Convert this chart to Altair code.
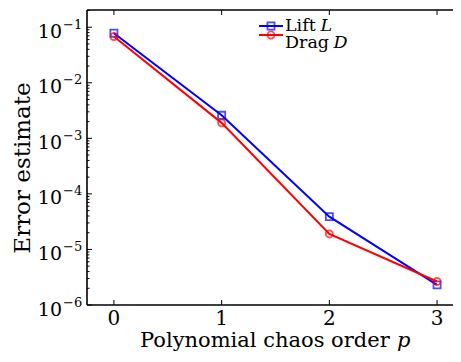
import altair as alt
import pandas as pd

# ---- data ----
order = [0, 1, 2, 3]
lift = [0.078, 0.0026, 3.9e-5, 2.3e-6]
drag = [0.068, 0.0019, 1.9e-5, 2.65e-6]
series_names = ["Lift", "Drag"]
series_symbols = ["L", "D"]
series_colors = ["#0000ff", "#ff0000"]
series_shapes = ["square", "circle"]
x_ticks = [0, 1, 2, 3]
y_exponents = [-6, -5, -4, -3, -2, -1]

FONT = "DejaVu Serif"
W, H = 366, 295
xs = alt.Scale(domain=[-0.25, 3.148], nice=False, zero=False)
ys = alt.Scale(type="log", domain=[1e-6, 10 ** -0.69], nice=False)

values = {"Lift": lift, "Drag": drag}
layers = []
one = pd.DataFrame({"k": [0]})

# ---- frame (left, top, bottom; right edge lies beyond the picture) ----
layers.append(alt.Chart(one).mark_rule(color="black", strokeWidth=1.6).encode(
    x=alt.value(0), x2=alt.value(W), y=alt.value(0)))
layers.append(alt.Chart(one).mark_rule(color="black", strokeWidth=1.6).encode(
    x=alt.value(0), x2=alt.value(W), y=alt.value(H)))
layers.append(alt.Chart(one).mark_rule(color="black", strokeWidth=1.6).encode(
    x=alt.value(0), y=alt.value(0), y2=alt.value(H)))

# ---- series (Lift drawn first, Drag on top) ----
for name, col, shp in zip(series_names, series_colors, series_shapes):
    d = pd.DataFrame({"p": order, "err": values[name]})
    b = alt.Chart(d)
    layers.append(b.mark_line(color=col, strokeWidth=2).encode(
        x=alt.X("p:Q", scale=xs, axis=None),
        y=alt.Y("err:Q", scale=ys, axis=None)))
    layers.append(b.mark_point(color=col, shape=shp, filled=False, size=50, strokeWidth=1.8).encode(
        x=alt.X("p:Q", scale=xs, axis=None),
        y=alt.Y("err:Q", scale=ys, axis=None)))

# ---- ticks (inward) ----
xt = pd.DataFrame({"p": x_ticks, "label": [str(v) for v in x_ticks]})
layers.append(alt.Chart(xt).mark_rule(color="black", strokeWidth=1).encode(
    x=alt.X("p:Q", scale=xs), y=alt.value(H), y2=alt.value(H - 5)))
layers.append(alt.Chart(xt).mark_rule(color="black", strokeWidth=1).encode(
    x=alt.X("p:Q", scale=xs), y=alt.value(0), y2=alt.value(5)))

major = pd.DataFrame({"v": [10.0 ** e for e in y_exponents],
                      "exp": ["\u2212" + str(abs(e)) for e in y_exponents]})
minor_vals = [m * 10.0 ** e for e in y_exponents for m in range(2, 10) if m * 10.0 ** e <= 10 ** -0.69]
minor = pd.DataFrame({"v": minor_vals})
layers.append(alt.Chart(major).mark_rule(color="black", strokeWidth=1).encode(
    y=alt.Y("v:Q", scale=ys), x=alt.value(0), x2=alt.value(5)))
layers.append(alt.Chart(minor).mark_rule(color="black", strokeWidth=1).encode(
    y=alt.Y("v:Q", scale=ys), x=alt.value(0), x2=alt.value(2.5)))

# ---- tick labels ----
layers.append(alt.Chart(major).mark_text(align="right", baseline="alphabetic", dy=10.5,
                                         fontSize=19, font=FONT, color="black").encode(
    y=alt.Y("v:Q", scale=ys), x=alt.value(-25), text=alt.value("10")))
layers.append(alt.Chart(major).mark_text(align="left", baseline="alphabetic", dy=1.5,
                                         fontSize=13, font=FONT, color="black").encode(
    y=alt.Y("v:Q", scale=ys), x=alt.value(-24), text="exp:N"))
layers.append(alt.Chart(xt).mark_text(align="center", baseline="alphabetic",
                                      fontSize=20, font=FONT, color="black").encode(
    x=alt.X("p:Q", scale=xs), y=alt.value(H + 20), text="label:N"))

# ---- axis titles ----
layers.append(alt.Chart(one).mark_text(align="left", baseline="alphabetic", fontSize=21,
                                       font=FONT, color="black").encode(
    x=alt.value(53), y=alt.value(H + 42), text=alt.value("Polynomial chaos order")))
layers.append(alt.Chart(one).mark_text(align="left", baseline="alphabetic", fontSize=21,
                                       font=FONT, fontStyle="italic", color="black").encode(
    x=alt.value(310), y=alt.value(H + 42), text=alt.value("p")))
layers.append(alt.Chart(one).mark_text(align="center", baseline="alphabetic", fontSize=23,
                                       angle=270, font=FONT, color="black").encode(
    x=alt.value(-57), y=alt.value(158), text=alt.value("Error estimate")))

# ---- legend ----
leg_line_y = [16, 25]
leg_text_y = [21, 38]
leg_sym_x = [233.5, 246.5]
for i, (name, sym, col, shp) in enumerate(zip(series_names, series_symbols, series_colors, series_shapes)):
    layers.append(alt.Chart(one).mark_rule(color=col, strokeWidth=2).encode(
        x=alt.value(172), x2=alt.value(196), y=alt.value(leg_line_y[i])))
    layers.append(alt.Chart(one).mark_point(color=col, shape=shp, filled=False, size=50,
                                            strokeWidth=1.8).encode(
        x=alt.value(184), y=alt.value(leg_line_y[i])))
    layers.append(alt.Chart(one).mark_text(align="left", baseline="alphabetic", fontSize=17.5,
                                           font=FONT, color="black").encode(
        x=alt.value(198), y=alt.value(leg_text_y[i]), text=alt.value(name)))
    layers.append(alt.Chart(one).mark_text(align="left", baseline="alphabetic", fontSize=17.5,
                                           font=FONT, fontStyle="italic", color="black").encode(
        x=alt.value(leg_sym_x[i]), y=alt.value(leg_text_y[i]), text=alt.value(sym)))

chart = alt.layer(*layers).properties(
    width=W, height=H,
    autosize=alt.AutoSizeParams(type="none"),
    padding={"left": 79, "top": 2, "right": 0, "bottom": 47},
    background="white",
).configure_view(stroke=None)

chart.save("out.html", embed_options={"renderer": "svg", "actions": False})
